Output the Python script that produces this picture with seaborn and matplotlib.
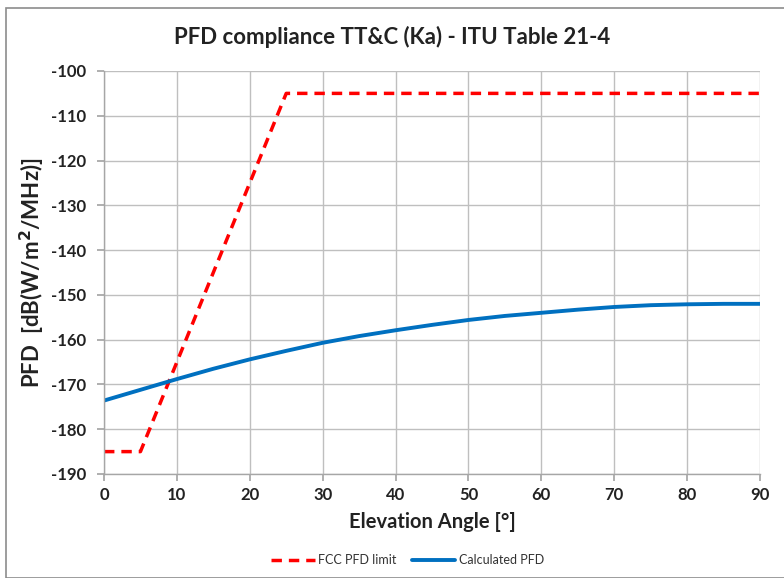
import matplotlib
matplotlib.use("Agg")
import matplotlib.pyplot as plt
import seaborn as sns
import pandas as pd
from matplotlib.patches import Rectangle

# Data
fcc_angle = [0, 5, 25, 90]
fcc_pfd = [-185, -185, -105, -105]
calc_angle = [0, 5, 10, 15, 20, 25, 30, 35, 40, 45, 50, 55, 60, 65, 70, 75, 80, 85, 90]
calc_pfd = [-173.6, -171.2, -168.8, -166.5, -164.4, -162.5, -160.7, -159.2, -157.9,
            -156.7, -155.6, -154.7, -154.0, -153.3, -152.7, -152.3, -152.1, -152.0, -152.0]
x_ticks = [0, 10, 20, 30, 40, 50, 60, 70, 80, 90]
y_ticks = [-190, -180, -170, -160, -150, -140, -130, -120, -110, -100]

sns.set_theme(style="white")
plt.rcParams['font.family'] = ['Lato', 'DejaVu Sans']
plt.rcParams['axes.unicode_minus'] = False

fig = plt.figure(figsize=(7.84, 5.78), dpi=100)
W, H = 784, 578
ax = fig.add_axes([104 / W, 1 - 474 / H, (760 - 104) / W, (474 - 71) / H])

df_fcc = pd.DataFrame({"angle": fcc_angle, "pfd": fcc_pfd})
df_calc = pd.DataFrame({"angle": calc_angle, "pfd": calc_pfd})

sns.lineplot(data=df_fcc, x="angle", y="pfd", ax=ax, color="#ff0000",
             linewidth=2.5, linestyle=(0, (3, 2)), label="FCC PFD limit")
sns.lineplot(data=df_calc, x="angle", y="pfd", ax=ax, color="#0070c0",
             linewidth=2.8, label="Calculated PFD")

ax.set_xlim(0, 90)
ax.set_ylim(-190, -100)
ax.set_xticks(x_ticks)
ax.set_yticks(y_ticks)
ax.grid(True, color="#bfbfbf", linewidth=1)
ax.set_axisbelow(True)
for s in ["top", "right"]:
    ax.spines[s].set_visible(False)
for s in ["left", "bottom"]:
    ax.spines[s].set_color("#a6a6a6")
    ax.spines[s].set_linewidth(1)
ax.tick_params(axis="both", which="both", length=5, color="#a6a6a6",
               labelsize=12, labelcolor="#222222", direction="out",
               bottom=True, left=True)
for lbl in ax.get_xticklabels() + ax.get_yticklabels():
    lbl.set_fontweight("bold")
ax.tick_params(axis="x", pad=4)
ax.tick_params(axis="y", pad=8)

ax.set_xlabel("Elevation Angle [°]", fontsize=14.5, fontweight="bold", color="#222222", labelpad=7)
ax.set_ylabel("PFD  [dB(W/m$^\\mathbf{2}$/MHz)]", fontsize=16, fontweight="bold", color="#222222",
              labelpad=3)

fig.text(0.5, 1 - 37 / H, "PFD compliance TT&C (Ka) - ITU Table 21-4",
         ha="center", va="center", fontsize=16, fontweight="bold", color="#222222")

leg = ax.legend(loc="center", bbox_to_anchor=(0.52, (1 - 560 / H)), bbox_transform=fig.transFigure,
                ncol=2, frameon=False, fontsize=9, handlelength=3.5, columnspacing=1.2,
                handletextpad=0.3)
for t in leg.get_texts():
    t.set_color("#333333")

fig.patches.append(Rectangle((6 / W, 0), 1.0, 1 - 8 / H, transform=fig.transFigure,
                             fill=False, edgecolor="#8c8c8c", linewidth=1.2))

fig.savefig("out.png", dpi=100)
